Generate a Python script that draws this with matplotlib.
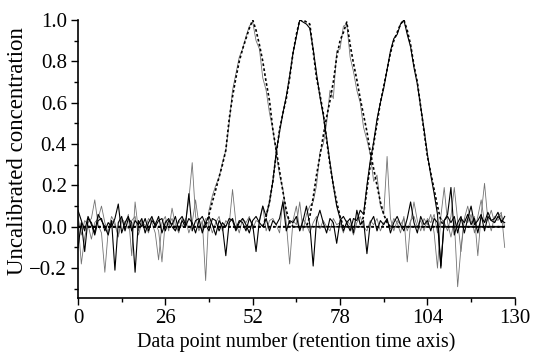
import numpy as np
import matplotlib
matplotlib.use("Agg")
import matplotlib.pyplot as plt
from matplotlib.ticker import MultipleLocator

plt.rcParams['font.family'] = ['Liberation Serif', 'DejaVu Serif']

# data point index (retention time axis)
x = np.arange(128)

# true elution profiles: start index + values over the peak, zero elsewhere
peak1_start = 38
peak1_vals = [0.0, 0.06, 0.12, 0.18, 0.24, 0.30, 0.37, 0.52, 0.63, 0.72, 0.80, 0.86,
              0.91, 0.96, 1.0, 0.95, 0.88, 0.80, 0.70, 0.61, 0.47, 0.37, 0.27, 0.17,
              0.08, 0.02, 0.0]
peak2_start = 55
peak2_vals = [0.0, 0.05, 0.12, 0.22, 0.35, 0.47, 0.55, 0.62, 0.72, 0.84, 0.93, 1.0,
              1.0, 0.99, 0.98, 0.85, 0.72, 0.64, 0.55, 0.42, 0.30, 0.20, 0.12, 0.05, 0.0]
peak3_start = 68
peak3_vals = [0.0, 0.05, 0.14, 0.25, 0.34, 0.44, 0.53, 0.61, 0.70, 0.82, 0.90, 0.94,
              0.99, 0.88, 0.79, 0.71, 0.62, 0.54, 0.46, 0.36, 0.28, 0.20, 0.12, 0.06,
              0.02, 0.0]
peak4_start = 84
peak4_vals = [0.0, 0.05, 0.18, 0.30, 0.40, 0.50, 0.60, 0.68, 0.76, 0.84, 0.90, 0.94,
              0.98, 1.0, 0.95, 0.88, 0.78, 0.70, 0.58, 0.46, 0.34, 0.26, 0.18, 0.10,
              0.03, 0.0]

# uncalibrated (resolved) concentration profiles, read point by point
est1 = [0.03, -0.18, -0.05, 0.02, 0.04, 0.13, 0.01, -0.03, -0.22, -0.02, 0.05, 0.02, -0.04, 0.03, 0.01, 0.06,
        -0.14, 0.12, -0.02, 0.03, -0.01, 0.04, 0.02, -0.03, -0.16, 0.02, 0.05, -0.02, 0.09, 0.01, -0.03, 0.04,
        0.02, 0.13, 0.31, 0.05, -0.02, 0.03, -0.26, 0.08, 0.15, 0.20, 0.24, 0.31, 0.37, 0.50, 0.66, 0.74,
        0.82, 0.86, 0.92, 0.97, 0.99, 0.90, 0.86, 0.72, 0.66, 0.55, 0.47, 0.36, 0.25, 0.18, 0.06, 0.02,
        0.03, 0.10, -0.02, 0.04, 0.01, -0.03, 0.02, 0.05, -0.01, 0.03, 0.00, -0.02, 0.04, 0.01, 0.02, -0.03,
        0.03, 0.01, -0.04, 0.02, 0.05, 0.00, -0.02, 0.03, 0.01, 0.04, -0.02, 0.02, 0.03, -0.01, 0.04, 0.02,
        -0.03, 0.05, -0.17, 0.02, 0.12, 0.03, -0.02, 0.04, 0.01, 0.06, -0.03, -0.20, 0.05, 0.19, 0.02, -0.05,
        0.03, -0.29, -0.10, 0.04, 0.10, 0.02, 0.05, -0.14, 0.06, 0.21, 0.03, 0.08, 0.02, 0.05, 0.07, -0.10]
est2 = [-0.10, 0.02, -0.12, 0.04, 0.02, -0.03, 0.06, 0.03, 0.00, -0.04, 0.03, -0.21, 0.02, 0.05, -0.02, 0.04,
        0.02, -0.22, 0.03, 0.00, 0.04, -0.02, 0.03, 0.01, 0.05, -0.03, 0.02, 0.04, 0.00, -0.02, 0.03, 0.05,
        0.01, 0.16, -0.02, 0.03, 0.04, -0.03, 0.02, 0.05, 0.01, -0.04, 0.03, 0.00, -0.14, 0.02, 0.04, -0.01,
        0.03, 0.02, -0.02, 0.04, 0.01, -0.12, 0.03, 0.10, 0.05, 0.12, 0.22, 0.36, 0.46, 0.55, 0.63, 0.73,
        0.84, 0.92, 1.00, 0.99, 0.98, 0.96, 0.86, 0.74, 0.63, 0.54, 0.43, 0.31, 0.20, 0.10, 0.04, -0.02,
        0.02, 0.04, -0.03, 0.08, 0.01, 0.03, -0.13, 0.02, 0.05, -0.02, 0.03, 0.01, 0.04, -0.03, 0.02, 0.05,
        0.01, -0.02, 0.04, 0.12, 0.02, -0.03, 0.05, 0.01, 0.03, -0.02, 0.04, 0.02, -0.19, 0.03, 0.06, 0.19,
        -0.04, 0.02, 0.05, -0.03, 0.04, 0.10, 0.01, 0.03, 0.06, -0.02, 0.05, 0.03, 0.04, 0.07, 0.02, 0.05]
est3 = [0.05, -0.04, 0.03, 0.01, -0.06, 0.02, 0.04, 0.10, 0.02, -0.03, 0.03, 0.01, -0.05, 0.04, 0.02, -0.01,
        0.03, 0.05, -0.04, 0.02, 0.01, -0.03, 0.04, 0.02, -0.02, -0.17, 0.03, 0.01, 0.04, -0.02, 0.03, 0.00,
        0.04, -0.03, 0.02, 0.13, 0.01, -0.02, 0.04, 0.03, -0.03, 0.02, 0.05, -0.02, 0.03, 0.01, 0.18, 0.02,
        -0.03, 0.04, 0.02, 0.05, -0.01, 0.03, 0.02, 0.10, -0.02, 0.03, 0.04, 0.01, -0.03, 0.13, 0.02, -0.18,
        0.03, 0.01, 0.12, -0.02, 0.06, 0.10, 0.12, 0.20, 0.36, 0.40, 0.50, 0.66, 0.62, 0.85, 0.86, 0.97,
        0.98, 0.82, 0.75, 0.66, 0.60, 0.48, 0.42, 0.35, 0.22, 0.25, 0.10, 0.06, 0.34, 0.04, -0.02, 0.03,
        0.01, 0.04, -0.02, 0.03, 0.05, 0.00, 0.03, -0.02, 0.04, 0.02, 0.06, -0.03, 0.04, 0.02, -0.02, 0.05,
        0.19, 0.03, -0.12, 0.04, 0.02, 0.06, -0.03, 0.05, 0.13, 0.02, 0.04, -0.02, 0.05, 0.03, 0.06, 0.00]
est4 = [0.08, 0.03, -0.02, 0.05, 0.01, -0.04, 0.03, 0.04, -0.02, 0.02, 0.00, 0.04, 0.11, -0.03, 0.02, 0.05,
        -0.02, 0.03, 0.01, 0.04, -0.03, 0.02, 0.05, 0.00, 0.03, 0.04, -0.02, 0.03, 0.01, 0.05, -0.02, 0.03,
        0.00, 0.04, 0.02, -0.03, 0.03, 0.05, 0.01, -0.02, 0.04, 0.03, -0.02, 0.02, 0.00, 0.04, 0.03, -0.02,
        0.02, 0.04, 0.01, -0.03, 0.03, 0.05, 0.02, 0.00, 0.04, -0.02, 0.03, 0.01, 0.04, 0.12, -0.02, 0.03,
        0.02, 0.05, -0.02, 0.03, 0.10, 0.01, -0.19, 0.03, 0.08, 0.02, -0.03, 0.04, 0.02, -0.08, 0.03, 0.05,
        0.02, -0.02, 0.04, 0.03, 0.08, 0.06, 0.20, 0.32, 0.41, 0.52, 0.60, 0.67, 0.76, 0.85, 0.91, 0.93,
        0.98, 1.00, 0.93, 0.87, 0.77, 0.69, 0.58, 0.47, 0.35, 0.25, 0.16, 0.06, -0.20, 0.03, 0.05, 0.02,
        0.05, -0.03, 0.04, 0.02, 0.06, 0.01, 0.04, -0.03, 0.05, 0.02, 0.07, 0.03, 0.02, 0.05, 0.03, 0.02]

xticks = [0, 26, 52, 78, 104, 130]
yticks = [-0.2, 0.0, 0.2, 0.4, 0.6, 0.8, 1.0]


def full_profile(start, vals):
    prof = np.zeros(len(x))
    prof[start:start + len(vals)] = vals
    return prof


fig = plt.figure(figsize=(5.34, 3.57), dpi=100)
ax = fig.add_axes([0.146, 0.165, 0.818, 0.779])

# estimated profiles: thin lines, grey and black
for est, col, lw in [(est1, '0.45', 0.6), (est3, '0.45', 0.6),
                     (est2, 'black', 0.8), (est4, 'black', 0.8)]:
    ax.plot(x, est, color=col, lw=lw)

# true profiles: dashed black
for start, vals in [(peak1_start, peak1_vals), (peak2_start, peak2_vals),
                    (peak3_start, peak3_vals), (peak4_start, peak4_vals)]:
    ax.plot(x, full_profile(start, vals), color='black', lw=1.2,
            linestyle=(0, (1.6, 1.4)))

ax.set_xlim(0, 130)
ax.set_ylim(-0.345, 1.0)
ax.set_xticks(xticks)
ax.set_yticks(yticks)
ax.set_yticklabels(['\u22120.2', '0.0', '0.2', '0.4', '0.6', '0.8', '1.0'])
ax.xaxis.set_minor_locator(MultipleLocator(13))
ax.yaxis.set_minor_locator(MultipleLocator(0.1))
ax.tick_params(which='major', direction='out', length=5, width=1, labelsize=15)
ax.tick_params(which='minor', direction='out', length=3, width=1)
ax.tick_params(axis='y', pad=3)
ax.tick_params(axis='x', pad=3)
ax.spines['top'].set_visible(False)
ax.spines['right'].set_visible(False)
ax.spines['left'].set_linewidth(1.2)
ax.spines['bottom'].set_linewidth(1.2)

ax.set_xlabel('Data point number (retention time axis)', fontsize=14.5, labelpad=3)
ax.set_ylabel('Uncalibrated concentration', fontsize=16.5)
ax.yaxis.set_label_coords(-0.115, 0.53)

fig.savefig('out.png', dpi=100)
